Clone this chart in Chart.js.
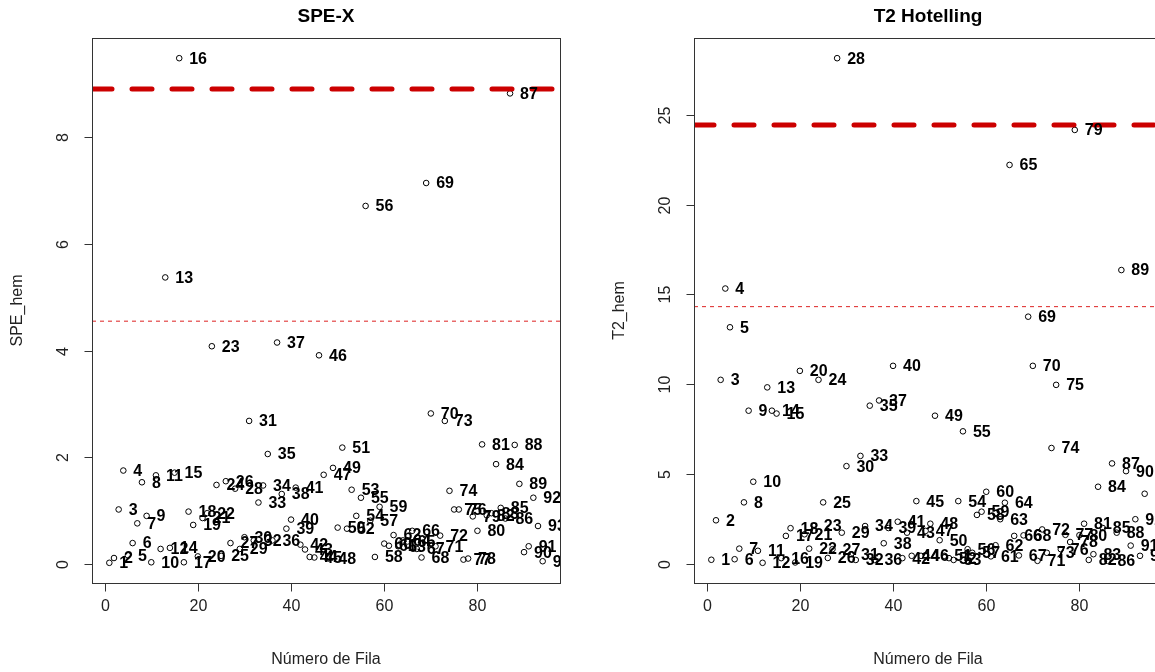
<!DOCTYPE html>
<html>
<head>
<meta charset="utf-8">
<script src="https://cdn.jsdelivr.net/npm/chart.js@4.4.0/dist/chart.umd.min.js"></script>
<style>
  html, body { margin: 0; padding: 0; background: #fff; }
  #wrap { position: relative; width: 1155px; height: 672px; overflow: hidden; background: #fff; }
  .panel { position: absolute; top: 0; width: 602px; height: 672px; }
  #p1 { left: 0; }
  #p2 { left: 602px; }
</style>
</head>
<body>
<div id="wrap">
  <div class="panel" id="p1"><canvas id="speChart" width="602" height="672"></canvas></div>
  <div class="panel" id="p2"><canvas id="t2Chart" width="602" height="672"></canvas></div>
</div>
<script>
// numero de fila 1..94
const filas = [
  1, 2, 3, 4, 5, 6, 7, 8, 9, 10, 11, 12, 13, 14, 15, 16, 17, 18, 19, 20,
  21, 22, 23, 24, 25, 26, 27, 28, 29, 30, 31, 32, 33, 34, 35, 36, 37, 38, 39, 40,
  41, 42, 43, 44, 45, 46, 47, 48, 49, 50, 51, 52, 53, 54, 55, 56, 57, 58, 59, 60,
  61, 62, 63, 64, 65, 66, 67, 68, 69, 70, 71, 72, 73, 74, 75, 76, 77, 78, 79, 80,
  81, 82, 83, 84, 85, 86, 87, 88, 89, 90, 91, 92, 93, 94
];

const speHem = [
  0.02, 0.11, 1.02, 1.75, 0.16, 0.39, 0.76, 1.53, 0.90, 0.03,
  1.66, 0.28, 5.37, 0.30, 1.71, 9.48, 0.03, 0.98, 0.73, 0.14,
  0.86, 0.95, 4.08, 1.48, 0.15, 1.55, 0.39, 1.41, 0.28, 0.50,
  2.68, 0.44, 1.15, 1.47, 2.06, 0.44, 4.15, 1.31, 0.66, 0.83,
  1.43, 0.36, 0.27, 0.13, 0.12, 3.91, 1.67, 0.10, 1.80, 0.68,
  2.18, 0.66, 1.39, 0.90, 1.24, 6.71, 0.81, 0.13, 1.07, 0.38,
  0.34, 0.54, 0.33, 0.44, 0.42, 0.62, 0.28, 0.12, 7.14, 2.82,
  0.33, 0.53, 2.68, 1.37, 1.02, 1.02, 0.08, 0.10, 0.89, 0.62,
  2.24, 0.91, 0.95, 1.87, 1.05, 0.85, 8.82, 2.23, 1.50, 0.22,
  0.33, 1.24, 0.71, 0.05
];

const t2Hem = [
  0.21, 2.41, 10.24, 15.33, 13.17, 0.24, 0.83, 3.41, 8.52, 4.56,
  0.71, 0.04, 9.82, 8.52, 8.36, 0.30, 1.54, 1.97, 0.06, 10.74,
  1.63, 0.83, 2.09, 10.24, 3.41, 0.31, 0.80, 28.17, 1.72, 5.43,
  0.52, 0.20, 6.00, 2.09, 8.80, 0.20, 9.09, 1.13, 1.98, 11.02,
  2.33, 0.30, 1.72, 0.43, 3.48, 0.43, 1.82, 2.22, 8.24, 1.30,
  0.43, 0.30, 0.20, 3.48, 7.37, 0.80, 0.60, 2.71, 2.89, 4.00,
  0.40, 1.02, 2.47, 3.39, 22.22, 1.54, 0.45, 1.57, 13.76, 11.02,
  0.15, 1.90, 0.60, 6.44, 9.96, 0.80, 1.60, 1.20, 24.17, 1.58,
  2.22, 0.20, 0.52, 4.28, 1.98, 0.15, 5.58, 1.72, 16.36, 5.15,
  1.00, 2.47, 0.43, 3.89
];

// limites de control (95% fino, 99% grueso)
const speLimites = [4.55, 8.90];
const t2Limites = [14.32, 24.44];

const xTicks = [0, 20, 40, 60, 80];
const speTicks = [0, 2, 4, 6, 8];
const t2Ticks = [0, 5, 10, 15, 20, 25];

const FONT = '"Liberation Sans", Arial, sans-serif';

// rango estilo R: +-4%
function rango(v) {
  const lo = Math.min(...v), hi = Math.max(...v);
  const d = (hi - lo) * 0.04;
  return [lo - d, hi + d];
}

const xRange = rango(filas);

const rAxes = {
  id: 'rAxes',
  afterDatasetsDraw(chart, args, opts) {
    const { ctx, chartArea: a } = chart;
    const meta = chart.getDatasetMeta(0);

    // etiquetas de los puntos
    ctx.save();
    ctx.beginPath();
    ctx.rect(a.left, a.top, a.right - a.left, a.bottom - a.top);
    ctx.clip();
    ctx.fillStyle = '#000';
    ctx.font = 'bold 16px ' + FONT;
    ctx.textAlign = 'left';
    ctx.textBaseline = 'middle';
    meta.data.forEach((pt, i) => {
      ctx.fillText(String(filas[i]), pt.x + 10, pt.y + 1);
    });
    ctx.restore();
  },
  afterDraw(chart, args, opts) {
    const { ctx, chartArea: a, scales: { x, y } } = chart;
    ctx.save();
    ctx.strokeStyle = '#333';
    ctx.lineWidth = 1;
    ctx.strokeRect(Math.round(a.left) + 0.5, Math.round(a.top) + 0.5,
      Math.round(a.right - a.left), Math.round(a.bottom - a.top));

    ctx.fillStyle = '#222';
    ctx.font = '16px ' + FONT;

    // eje x
    const xb = Math.round(a.bottom) + 0.5;
    const x0 = Math.round(x.getPixelForValue(xTicks[0])) + 0.5;
    const x1 = Math.round(x.getPixelForValue(xTicks[xTicks.length - 1])) + 0.5;
    ctx.beginPath();
    ctx.moveTo(x0, xb); ctx.lineTo(x1, xb);
    ctx.textAlign = 'center';
    ctx.textBaseline = 'middle';
    xTicks.forEach(t => {
      const px = Math.round(x.getPixelForValue(t)) + 0.5;
      ctx.moveTo(px, xb); ctx.lineTo(px, xb + 8);
      ctx.fillText(String(t), px, a.bottom + 24);
    });
    ctx.stroke();

    // eje y
    const yl = Math.round(a.left) + 0.5;
    const yt = opts.ticks;
    ctx.beginPath();
    ctx.moveTo(yl, Math.round(y.getPixelForValue(yt[0])) + 0.5);
    ctx.lineTo(yl, Math.round(y.getPixelForValue(yt[yt.length - 1])) + 0.5);
    yt.forEach(t => {
      const py = Math.round(y.getPixelForValue(t)) + 0.5;
      ctx.moveTo(yl, py); ctx.lineTo(yl - 8, py);
      ctx.save();
      ctx.translate(a.left - 28, py);
      ctx.rotate(-Math.PI / 2);
      ctx.fillText(String(t), 0, 0);
      ctx.restore();
    });
    ctx.stroke();

    // titulos
    const cx = (a.left + a.right) / 2;
    ctx.fillStyle = '#000';
    ctx.font = 'bold 19px ' + FONT;
    ctx.fillText(opts.title, cx, 17);
    ctx.fillStyle = '#222';
    ctx.font = '16px ' + FONT;
    ctx.fillText('Número de Fila', cx, 660);
    ctx.save();
    ctx.translate(18, (a.top + a.bottom) / 2);
    ctx.rotate(-Math.PI / 2);
    ctx.fillText(opts.yTitle, 0, 0);
    ctx.restore();
    ctx.restore();
  }
};

function crearGrafico(id, valores, limites, ticks, titulo, yTitulo) {
  const yRange = rango(valores);
  const puntos = filas.map((f, i) => ({ x: f, y: valores[i] }));
  const linea = v => [{ x: xRange[0], y: v }, { x: xRange[1], y: v }];
  return new Chart(document.getElementById(id), {
    type: 'scatter',
    data: {
      datasets: [
        {
          data: puntos,
          pointStyle: 'circle',
          pointRadius: 2.8,
          pointBorderWidth: 1,
          pointBorderColor: '#000',
          pointBackgroundColor: 'rgba(0,0,0,0)',
          order: 3
        },
        {
          type: 'line',
          data: linea(limites[0]),
          borderColor: '#DD2222',
          borderWidth: 1,
          borderDash: [4, 4],
          pointRadius: 0,
          order: 2
        },
        {
          type: 'line',
          data: linea(limites[1]),
          borderColor: '#CC0000',
          borderWidth: 5,
          borderDash: [20, 20],
          borderCapStyle: 'round',
          pointRadius: 0,
          order: 1
        }
      ]
    },
    options: {
      responsive: false,
      animation: false,
      events: [],
      layout: { padding: { left: 92, right: 42, top: 38, bottom: 89 } },
      plugins: {
        legend: { display: false },
        tooltip: { enabled: false },
        rAxes: { ticks: ticks, title: titulo, yTitle: yTitulo }
      },
      scales: {
        x: { type: 'linear', min: xRange[0], max: xRange[1], display: false },
        y: { type: 'linear', min: yRange[0], max: yRange[1], display: false }
      }
    },
    plugins: [rAxes]
  });
}

window.speChart = crearGrafico('speChart', speHem, speLimites, speTicks, 'SPE-X', 'SPE_hem');
window.t2Chart = crearGrafico('t2Chart', t2Hem, t2Limites, t2Ticks, 'T2 Hotelling', 'T2_hem');
</script>
</body>
</html>
